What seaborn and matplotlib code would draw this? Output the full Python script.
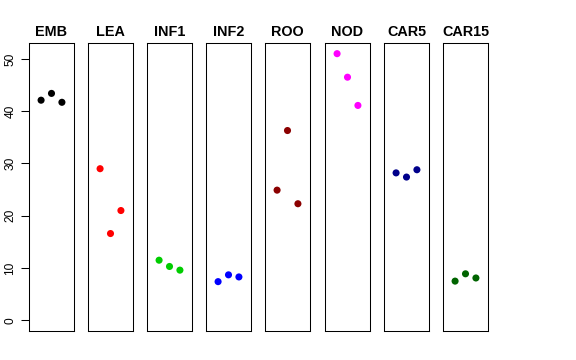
import matplotlib
matplotlib.use("Agg")
import matplotlib.pyplot as plt
import seaborn as sns
import pandas as pd

sns.set_style("white")
plt.rcParams['font.family'] = ['Liberation Sans', 'DejaVu Sans']
plt.rcParams['text.color'] = 'black'
plt.rcParams['ytick.color'] = 'black'
plt.rcParams['axes.labelcolor'] = 'black'

tissues = ["EMB", "LEA", "INF1", "INF2", "ROO", "NOD", "CAR5", "CAR15"]
colors = ["#000000", "#FF0000", "#00CD00", "#0000FF", "#8B0000", "#FF00FF", "#00008B", "#006400"]
emb = [42.1, 43.4, 41.7]
lea = [29.0, 16.6, 21.0]
inf1 = [11.5, 10.3, 9.6]
inf2 = [7.4, 8.7, 8.3]
roo = [24.9, 36.3, 22.3]
nod = [51.0, 46.5, 41.1]
car5 = [28.2, 27.4, 28.8]
car15 = [7.5, 8.9, 8.1]
values = [emb, lea, inf1, inf2, roo, nod, car5, car15]
replicate = [1, 2, 3]
yticks = [0, 10, 20, 30, 40, 50]

W, H = 576, 360
fig = plt.figure(figsize=(W / 100, H / 100), dpi=100)

lefts = [29, 88, 147, 206, 265, 325, 384, 443]
pw = 45
top, bottom = 43, 331

for i, (name, col, vals) in enumerate(zip(tissues, colors, values)):
    ax = fig.add_axes([lefts[i] / W, 1 - bottom / H, pw / W, (bottom - top) / H])
    df = pd.DataFrame({"rep": replicate, "val": vals})
    sns.scatterplot(data=df, x="rep", y="val", ax=ax, color=col, s=26,
                    edgecolor="none", linewidth=0)
    ax.set_xlim(-0.16, 4.16)
    ax.set_ylim(-2.04, 53.04)
    ax.set_xticks([])
    ax.set_xlabel("")
    ax.set_ylabel("")
    ax.set_title(name, fontsize=10.4, fontweight="bold", pad=5, color="black")
    for sp in ax.spines.values():
        sp.set_visible(True)
        sp.set_color("black")
        sp.set_linewidth(0.75)
    if i == 0:
        ax.set_yticks(yticks)
        ax.set_yticklabels([str(t) for t in yticks], rotation=90, va="center", fontsize=8.6, color="black")
        ax.tick_params(axis="y", length=6, width=0.75, color="black", pad=3, left=True)
    else:
        ax.set_yticks([])

fig.savefig("out.png", dpi=100)
